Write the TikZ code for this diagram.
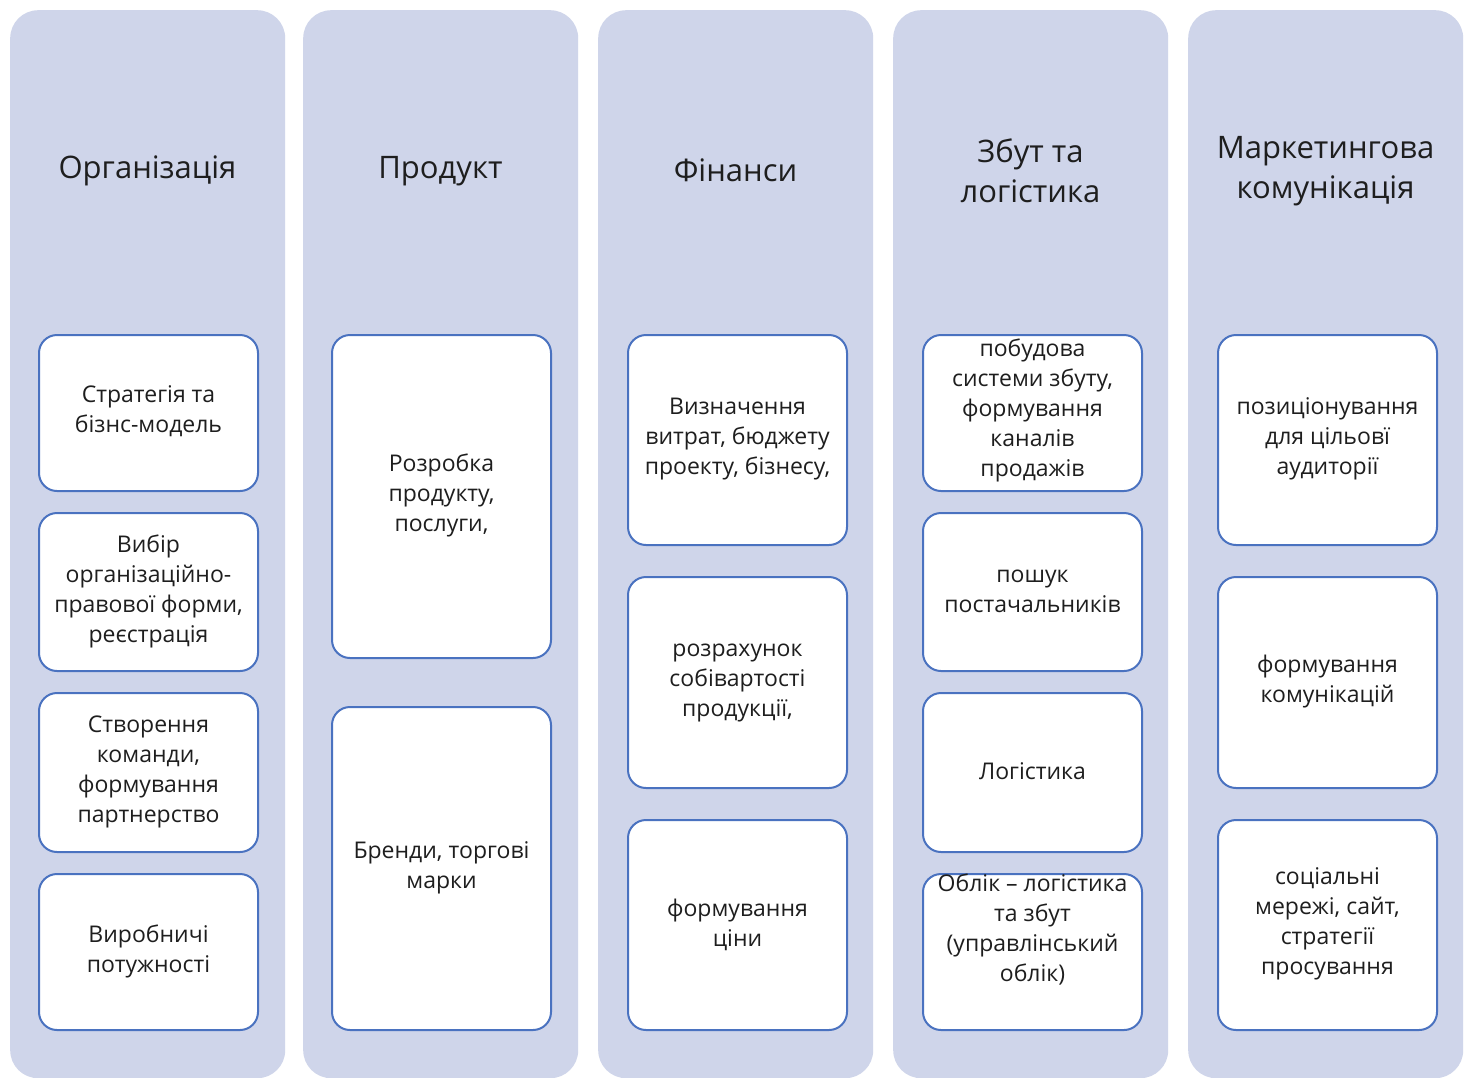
\documentclass[tikz,border=0pt]{standalone}
\usepackage{fontspec}
\setmainfont{Open Sans}
\definecolor{colbg}{HTML}{CFD5EA}
\definecolor{boxline}{HTML}{4A72C0}
\definecolor{txt}{HTML}{1E1E1E}
\begin{document}
\begin{tikzpicture}[x=1pt,y=-1pt,
  column/.style={fill=colbg, draw=none, rounded corners=28pt, minimum width=275pt, minimum height=1068pt, anchor=north west, inner sep=0pt},
  card/.style={draw=boxline, line width=2pt, fill=white, rounded corners=18pt, anchor=north west, inner sep=0pt, minimum width=219pt},
  body/.style={align=center, font=\fontsize{23}{30}\selectfont, text=txt, inner sep=0pt},
  title/.style={align=center, font=\fontsize{31}{40}\selectfont, text=txt, inner sep=0pt}]
\useasboundingbox[fill=white] (0,0) rectangle (1471,1077);
% columns
\node[column] (c1) at (10,10) {};
\node[column] (c2) at (303,10) {};
\node[column] (c3) at (598,10) {};
\node[column] (c4) at (893,10) {};
\node[column] (c5) at (1188,10) {};
% titles
\node[title] (t1) at (147.5,171) {Організація};
\node[title] (t2) at (440.5,171) {Продукт};
\node[title] (t3) at (735.5,170) {Фінанси};
\node[title] (t4) at (1030.5,171) {Збут та\\логістика};
\node[title] (t5) at (1325.5,171) {Маркетингова\\комунікація};
% column 1
\node[card, minimum height=156pt] (a1) at (38,334) {};
\node[card, minimum height=158pt] (a2) at (38,512) {};
\node[card, minimum height=159pt] (a3) at (38,692) {};
\node[card, minimum height=156pt] (a4) at (38,873) {};
\node[body] at ([yshift=2pt]a1.center) {Стратегія та\\бізнс-модель};
\node[body] at ([yshift=1pt]a2.center) {Вибір\\організаційно-\\правової форми,\\реєстрація};
\node[body] at ([yshift=1pt]a3.center) {Створення\\команди,\\формування\\партнерство};
\node[body] at ([yshift=1pt]a4.center) {Виробничі\\потужності};
% column 2
\node[card, minimum height=323pt] (b1) at (331,334) {};
\node[card, minimum height=323pt] (b2) at (331,706) {};
\node[body] at ([yshift=1pt]b1.center) {Розробка\\продукту,\\послуги,};
\node[body] at ([yshift=1pt]b2.center) {Бренди, торгові\\марки};
% column 3
\node[card, minimum height=210pt] (d1) at (627,334) {};
\node[card, minimum height=211pt] (d2) at (627,576) {};
\node[card, minimum height=210pt] (d3) at (627,819) {};
\node[body] at ([yshift=1pt]d1.center) {Визначення\\витрат, бюджету\\проекту, бізнесу,};
\node[body] at ([yshift=0pt]d2.center) {розрахунок\\собівартості\\продукції,};
\node[body] at ([yshift=0pt]d3.center) {формування\\ціни};
% column 4
\node[card, minimum height=156pt] (e1) at (922,334) {};
\node[card, minimum height=158pt] (e2) at (922,512) {};
\node[card, minimum height=159pt] (e3) at (922,692) {};
\node[card, minimum height=156pt] (e4) at (922,873) {};
\node[body] at ([yshift=3pt]e1.center) {побудова\\системи збуту,\\формування\\каналів\\продажів};
\node[body] at ([yshift=1pt]e2.center) {пошук\\постачальників};
\node[body] at ([yshift=1pt]e3.center) {Логістика};
\node[body] at ([yshift=23pt]e4.center) {Облік -- логістика\\та збут\\(управлінський\\облік)};
% column 5
\node[card, minimum height=210pt] (f1) at (1217,334) {};
\node[card, minimum height=211pt] (f2) at (1217,576) {};
\node[card, minimum height=210pt] (f3) at (1217,819) {};
\node[body] at ([yshift=1pt]f1.center) {позиціонування\\для цільовї\\аудиторії};
\node[body] at ([yshift=1pt]f2.center) {формування\\комунікацій};
\node[body] at ([yshift=1pt]f3.center) {соціальні\\мережі, сайт,\\стратегії\\просування};
\end{tikzpicture}
\end{document}
